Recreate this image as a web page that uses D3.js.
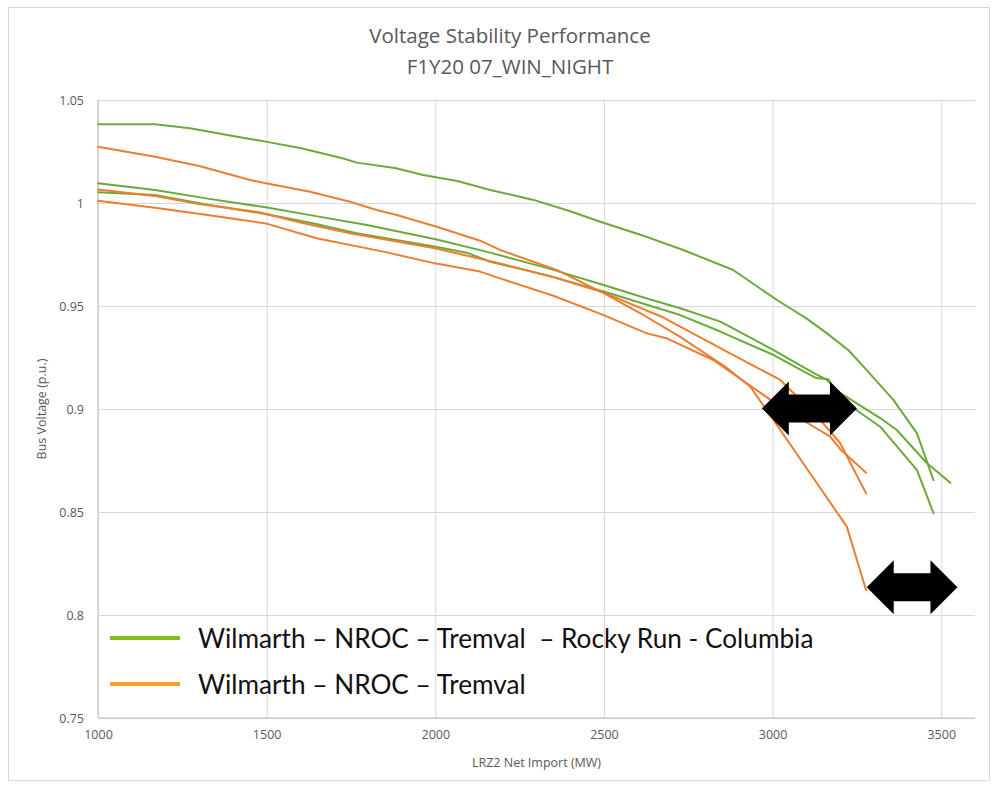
<!DOCTYPE html>
<html><head><meta charset="utf-8">
<script src="https://cdn.jsdelivr.net/npm/d3@7"></script>
<style>
body{margin:0;background:#fff;}
svg{display:block;}
</style></head>
<body>
<svg id="chart" width="998" height="793"></svg>
<script>
const title1 = "Voltage Stability Performance";
const title2 = "F1Y20 07_WIN_NIGHT";
const xTicks = [1000, 1500, 2000, 2500, 3000, 3500];
const yTicks = [0.75, 0.8, 0.85, 0.9, 0.95, 1, 1.05];
const xTitle = "LRZ2 Net Import (MW)";
const yTitle = "Bus Voltage (p.u.)";
const legendLabels = ["Wilmarth \u2013 NROC \u2013 Tremval  \u2013 Rocky Run - Columbia", "Wilmarth \u2013 NROC \u2013 Tremval"];

// Green series: Wilmarth – NROC – Tremval – Rocky Run - Columbia
const green1 = [[1000,1.0382],[1169,1.0382],[1273,1.0363],[1400,1.0325],[1497,1.0298],[1599,1.0267],[1725,1.0217],[1767,1.0196],[1880,1.0170],[1964,1.0136],[2065,1.0107],[2163,1.0063],[2291,1.0015],[2400,0.9960],[2489,0.9909],[2610,0.9845],[2735,0.9772],[2883,0.9675],[3013,0.9529],[3100,0.9440],[3161,0.9367],[3225,0.9285],[3279,0.9189],[3358,0.9044],[3428,0.8882],[3477,0.8655]];
const green2 = [[1000,1.0096],[1169,1.0063],[1330,1.0020],[1497,0.9979],[1650,0.9935],[1797,0.9893],[2001,0.9824],[2163,0.9759],[2330,0.9685],[2499,0.9602],[2620,0.9540],[2726,0.9489],[2845,0.9424],[3003,0.9286],[3121,0.9175],[3161,0.9141],[3200,0.9078],[3319,0.8956],[3368,0.8898],[3457,0.8738],[3527,0.8642]];
const green3 = [[1000,1.0052],[1169,1.0039],[1330,0.9990],[1497,0.9947],[1640,0.9900],[1767,0.9853],[2001,0.9788],[2093,0.9759],[2163,0.9715],[2330,0.9650],[2499,0.9570],[2620,0.9510],[2726,0.9456],[2845,0.9376],[3003,0.9262],[3100,0.9175],[3130,0.9150],[3165,0.9145],[3200,0.9050],[3319,0.8914],[3428,0.8703],[3477,0.8494]];

// Orange series: Wilmarth – NROC – Tremval
const orange1 = [[1000,1.0273],[1169,1.0225],[1300,1.0180],[1451,1.0112],[1497,1.0096],[1629,1.0055],[1747,1.0006],[1826,0.9966],[1886,0.9942],[2004,0.9885],[2133,0.9817],[2192,0.9772],[2360,0.9675],[2499,0.9562],[2607,0.9466],[2726,0.9350],[2785,0.9286],[2860,0.9205],[2934,0.9108],[3013,0.8922],[3111,0.8688],[3220,0.8429],[3277,0.8121]];
const orange2 = [[1000,1.0066],[1169,1.0034],[1300,0.9995],[1474,0.9956],[1600,0.9905],[1747,0.9853],[1999,0.9780],[2192,0.9707],[2350,0.9640],[2499,0.9565],[2671,0.9448],[2726,0.9400],[2845,0.9295],[3023,0.9141],[3141,0.8947],[3200,0.8835],[3277,0.8591]];
const orange3 = [[1000,1.0011],[1169,0.9977],[1330,0.9940],[1497,0.9901],[1648,0.9829],[1846,0.9764],[1999,0.9707],[2133,0.9667],[2192,0.9634],[2350,0.9550],[2499,0.9456],[2627,0.9367],[2686,0.9343],[2824,0.9238],[3023,0.9011],[3171,0.8866],[3200,0.8806],[3277,0.8691]];

// Double-headed arrow annotations: [x start, x end, voltage]
const arrows = [[2968, 3250, 0.9003], [3279, 3548, 0.8135]];

const svg = d3.select("#chart");
const W = 998, H = 793;
const m = {left: 98, right: 23, top: 100, bottom: 75};

// outer frame
svg.append("rect").attr("x", 8.5).attr("y", 7.5).attr("width", 981).attr("height", 773)
  .attr("fill", "#fff").attr("stroke", "#d9d9d9").attr("stroke-width", 1);

const x = d3.scaleLinear().domain([1000, 3600]).range([m.left, W - m.right]);
const y = d3.scaleLinear().domain([0.75, 1.05]).range([H - m.bottom, m.top]);

const grayTxt = "#595959";
const font = "'Open Sans', sans-serif";

// gridlines
const gy = svg.append("g").attr("transform", `translate(${m.left},0)`)
  .call(d3.axisLeft(y).tickValues(yTicks).tickSize(-(x.range()[1]-m.left)).tickFormat(d => d3.format("")(+d.toFixed(2))).tickPadding(14));
gy.select(".domain").remove();
gy.selectAll(".tick line").attr("stroke", "#d9d9d9").attr("stroke-width", 1);
gy.selectAll(".tick text").attr("fill", grayTxt).attr("font-family", font).attr("font-size", 12.5).attr("dy", "0.32em");

const gx = svg.append("g").attr("transform", `translate(0,${y(0.75)})`)
  .call(d3.axisBottom(x).tickValues(xTicks).tickSize(-(y(0.75)-y(1.05))).tickFormat(d3.format("")).tickPadding(12));
gx.select(".domain").remove();
gx.selectAll(".tick line").attr("stroke", "#d9d9d9").attr("stroke-width", 1);
gx.selectAll(".tick text").attr("fill", grayTxt).attr("font-family", font).attr("font-size", 12.5);

// axis lines
svg.append("line").attr("x1", x(1000)).attr("x2", x(1000)).attr("y1", y(1.05)).attr("y2", y(0.75)).attr("stroke", "#bfbfbf");
svg.append("line").attr("x1", x(1000)).attr("x2", x(3600)).attr("y1", y(0.75)).attr("y2", y(0.75)).attr("stroke", "#bfbfbf");

// titles
svg.append("text").attr("x", 510).attr("y", 43).attr("text-anchor", "middle").attr("fill", grayTxt)
  .attr("font-family", font).attr("font-size", 20.5).text(title1);
svg.append("text").attr("x", 510).attr("y", 74).attr("text-anchor", "middle").attr("fill", grayTxt)
  .attr("font-family", font).attr("font-size", 20.5).text(title2);
svg.append("text").attr("x", (x(1000)+x(3600))/2).attr("y", 767).attr("text-anchor", "middle").attr("fill", grayTxt)
  .attr("font-family", font).attr("font-size", 12.5).text(xTitle);
svg.append("text").attr("transform", `translate(46,${(y(0.75)+y(1.05))/2}) rotate(-90)`).attr("text-anchor", "middle")
  .attr("fill", grayTxt).attr("font-family", font).attr("font-size", 12.5).text(yTitle);

// data lines
const line = d3.line().x(d => x(d[0])).y(d => y(d[1]));
const greenC = "#6aaa3a", orangeC = "#ed7d31";
[[green1, greenC],[green2, greenC],[green3, greenC],[orange1, orangeC],[orange2, orangeC],[orange3, orangeC]].forEach(([data, c]) => {
  svg.append("path").datum(data).attr("d", line).attr("fill", "none").attr("stroke", c)
    .attr("stroke-width", 2).attr("stroke-linejoin", "round").attr("stroke-linecap", "round");
});

// arrows
arrows.forEach(([x0, x1, v]) => {
  const a = x(x0), b = x(x1), cy = y(v);
  const headL = 27, headH = 27, shaft = 14;
  const p = [[a, cy],[a+headL, cy-headH],[a+headL, cy-shaft],[b-headL, cy-shaft],[b-headL, cy-headH],[b, cy],
             [b-headL, cy+headH],[b-headL, cy+shaft],[a+headL, cy+shaft],[a+headL, cy+headH]];
  svg.append("path").attr("d", "M" + p.map(q => q.join(",")).join("L") + "Z").attr("fill", "#000");
});

// legend
const legColors = ["#7fbf1f", "#ffa024"];
const legY = [638, 684];
legendLabels.forEach((t, i) => {
  svg.append("line").attr("x1", 110).attr("x2", 180).attr("y1", legY[i]).attr("y2", legY[i])
    .attr("stroke", legColors[i]).attr("stroke-width", 4);
  svg.append("text").attr("x", 198).attr("y", legY[i] + 9.5).attr("font-family", "Lato, sans-serif")
    .attr("font-size", 26.2).attr("fill", "#111").style("white-space", "pre").text(t);
});
</script>
</body></html>
